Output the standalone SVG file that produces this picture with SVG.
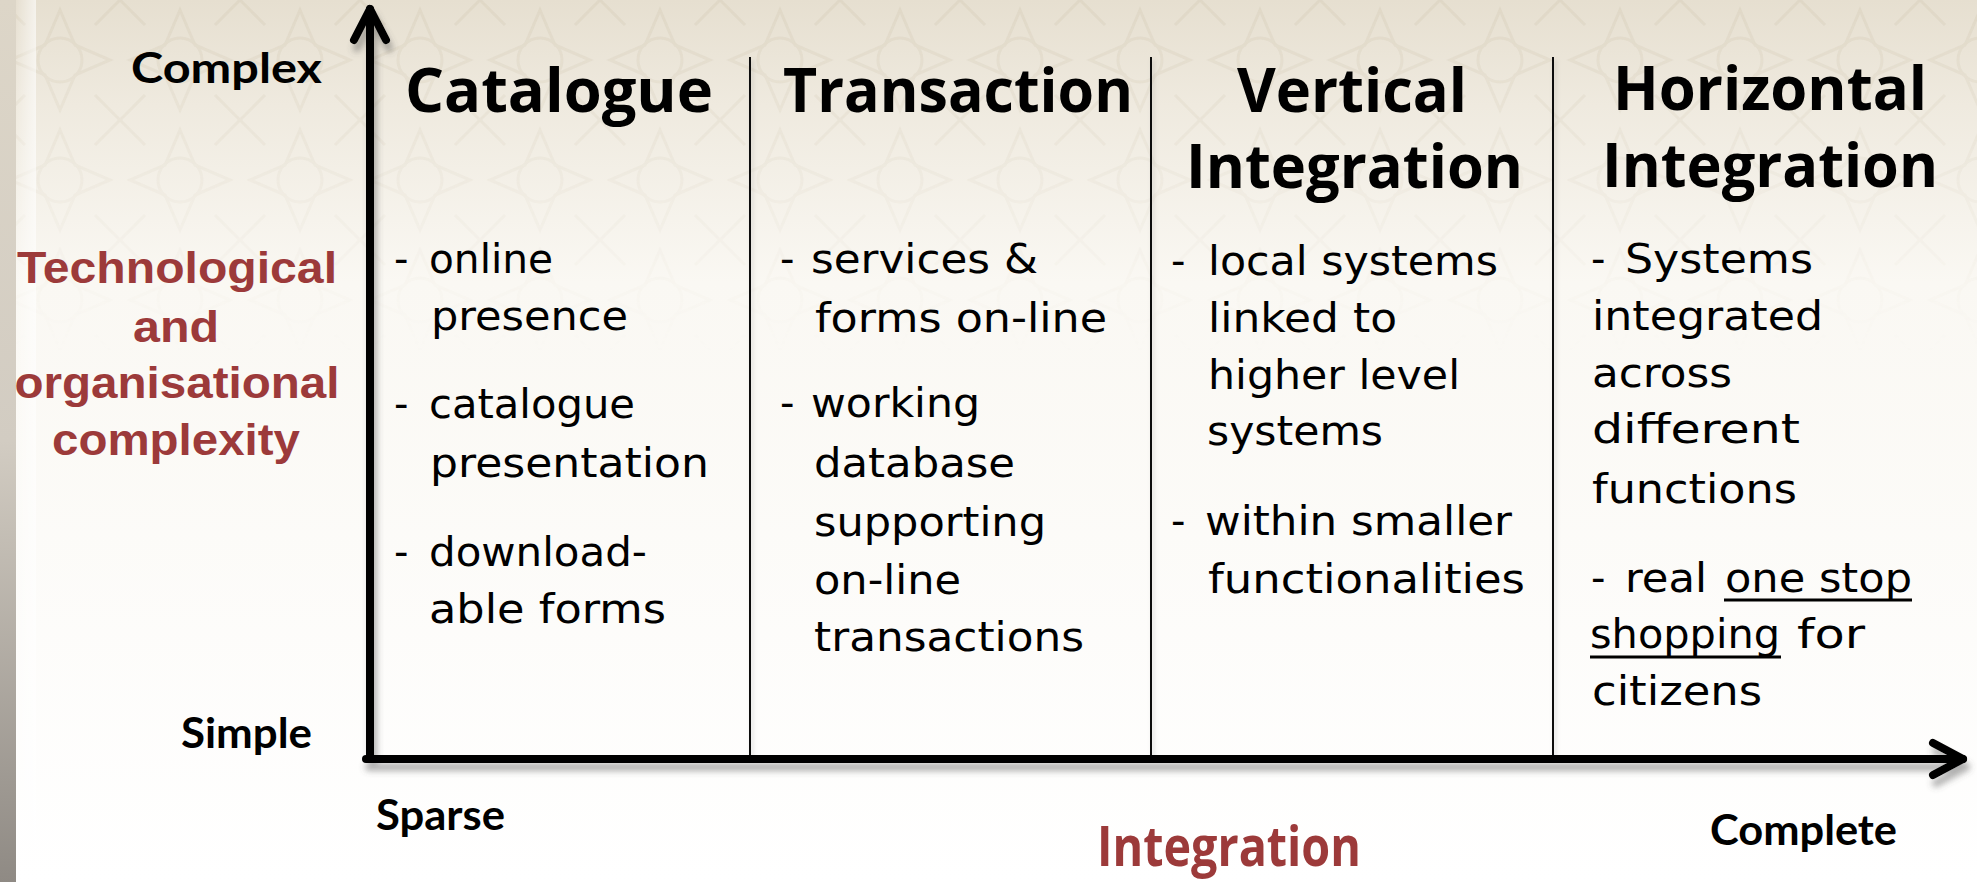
<svg xmlns="http://www.w3.org/2000/svg" width="1977" height="882" viewBox="0 0 1977 882">
  <defs>
    <linearGradient id="bgTop" x1="0" y1="0" x2="0" y2="1">
      <stop offset="0" stop-color="#e6dfd0"/>
      <stop offset="0.12" stop-color="#efeadf"/>
      <stop offset="0.32" stop-color="#faf8f3"/>
      <stop offset="1" stop-color="#ffffff"/>
    </linearGradient>
    <linearGradient id="leftStrip" x1="0" y1="0" x2="0" y2="1">
      <stop offset="0" stop-color="#ddd6c8"/>
      <stop offset="0.5" stop-color="#d2ccc2"/>
      <stop offset="1" stop-color="#8f8a84"/>
    </linearGradient>
    <linearGradient id="leftFade" x1="0" y1="0" x2="1" y2="0">
      <stop offset="0" stop-color="#ffffff" stop-opacity="0"/>
      <stop offset="1" stop-color="#ffffff" stop-opacity="1"/>
    </linearGradient>
    <linearGradient id="patFade" x1="0" y1="0" x2="0" y2="1">
      <stop offset="0" stop-color="#fff" stop-opacity="1"/>
      <stop offset="0.22" stop-color="#fff" stop-opacity="0.35"/>
      <stop offset="0.4" stop-color="#fff" stop-opacity="0"/>
    </linearGradient>
    <mask id="patMask">
      <rect x="0" y="0" width="1977" height="882" fill="url(#patFade)"/>
    </mask>
    <pattern id="arab" x="0" y="0" width="120" height="120" patternUnits="userSpaceOnUse">
      <g fill="none" stroke="#cfc5b0" stroke-width="3" opacity="0.3">
        <polygon points="60,10 75,45 110,60 75,75 60,110 45,75 10,60 45,45"/>
        <circle cx="60" cy="60" r="22"/>
        <path d="M0,0 L25,25 M120,0 L95,25 M0,120 L25,95 M120,120 L95,95"/>
      </g>
    </pattern>
    <filter id="shadow" x="-5%" y="-5%" width="110%" height="120%">
      <feDropShadow dx="3" dy="8" stdDeviation="3" flood-color="#555" flood-opacity="0.45"/>
    </filter>
    <filter id="softShadow" x="-20%" y="-2%" width="140%" height="104%">
      <feDropShadow dx="2" dy="3" stdDeviation="2" flood-color="#777" flood-opacity="0.3"/>
    </filter>
  </defs>
  <style>
    .title { font-family: "Open Sans", "DejaVu Sans", sans-serif; font-weight: 700; font-size: 60px; fill: #000; }
    .body { font-family: "DejaVu Sans", "Noto Sans", sans-serif; font-size: 40px; fill: #000; }
    .axislbl { font-family: "Lato", "Open Sans", sans-serif; font-weight: 700; font-size: 42px; fill: #000; }
    .ylabel { font-family: "Liberation Sans", Arial, sans-serif; font-weight: 700; font-size: 45px; fill: #9c3a3a; text-anchor: middle; }
    .xlabel { font-family: "Open Sans", "Liberation Sans", sans-serif; font-weight: 700; font-size: 56px; fill: #9c3a3a; }
    .divider { stroke: #111; stroke-width: 2; fill: none; }
    .axis { stroke: #000; stroke-width: 8; fill: none; stroke-linecap: round; stroke-linejoin: round; }
    .uline { stroke: #000; stroke-width: 3; }
  </style>

  <!-- background -->
  <rect x="0" y="0" width="1977" height="882" fill="url(#bgTop)"/>
  <rect x="0" y="0" width="1977" height="882" fill="url(#arab)" mask="url(#patMask)"/>
  <rect x="0" y="0" width="16" height="882" fill="url(#leftStrip)"/>
  <rect x="16" y="0" width="20" height="882" fill="url(#leftFade)" opacity="0.6"/>

  <!-- connectors: axes and column dividers -->
  <g id="connectors">
    <g filter="url(#softShadow)">
      <line class="divider" x1="750" y1="57" x2="750" y2="756"/>
      <line class="divider" x1="1151" y1="57" x2="1151" y2="756"/>
      <line class="divider" x1="1553" y1="57" x2="1553" y2="756"/>
    </g>
    <g filter="url(#shadow)">
      <path class="axis" d="M370,759 L370,9"/>
      <path class="axis" d="M354,40 L370,9 L386,40"/>
      <path class="axis" d="M366,759 L1963,759"/>
      <path class="axis" d="M1933,743 L1963,759 L1933,775"/>
    </g>
  </g>

  <!-- axis labels -->
  <g id="y-axis-labels">
    <text class="axislbl" x="131" y="83" textLength="191" lengthAdjust="spacingAndGlyphs">Complex</text>
    <text class="axislbl" x="181" y="748" textLength="131" lengthAdjust="spacingAndGlyphs">Simple</text>
    <text class="ylabel" x="177" y="283" textLength="320" lengthAdjust="spacingAndGlyphs">Technological</text>
    <text class="ylabel" x="176" y="342" textLength="86" lengthAdjust="spacingAndGlyphs">and</text>
    <text class="ylabel" x="177" y="398" textLength="325" lengthAdjust="spacingAndGlyphs">organisational</text>
    <text class="ylabel" x="176" y="455" textLength="248" lengthAdjust="spacingAndGlyphs">complexity</text>
  </g>
  <g id="x-axis-labels">
    <text class="axislbl" x="376" y="830" textLength="129" lengthAdjust="spacingAndGlyphs">Sparse</text>
    <text class="axislbl" x="1710" y="845" textLength="187" lengthAdjust="spacingAndGlyphs">Complete</text>
    <text class="xlabel" x="1097" y="866" textLength="264" lengthAdjust="spacingAndGlyphs">Integration</text>
  </g>

  <!-- column 1 -->
  <g id="catalogue">
    <text class="title" x="405" y="112" textLength="308" lengthAdjust="spacingAndGlyphs">Catalogue</text>
    <text class="body" x="394" y="273">-</text>
    <text class="body" x="429" y="273" textLength="124" lengthAdjust="spacingAndGlyphs">online</text>
    <text class="body" x="431" y="330" textLength="197" lengthAdjust="spacingAndGlyphs">presence</text>
    <text class="body" x="394" y="418">-</text>
    <text class="body" x="429" y="418" textLength="206" lengthAdjust="spacingAndGlyphs">catalogue</text>
    <text class="body" x="430" y="477" textLength="279" lengthAdjust="spacingAndGlyphs">presentation</text>
    <text class="body" x="394" y="566">-</text>
    <text class="body" x="429" y="566" textLength="218" lengthAdjust="spacingAndGlyphs">download-</text>
    <text class="body" x="429" y="623" textLength="237" lengthAdjust="spacingAndGlyphs">able forms</text>
  </g>

  <!-- column 2 -->
  <g id="transaction">
    <text class="title" x="783" y="112" textLength="350" lengthAdjust="spacingAndGlyphs">Transaction</text>
    <text class="body" x="780" y="273">-</text>
    <text class="body" x="811" y="273" textLength="227" lengthAdjust="spacingAndGlyphs">services &amp;</text>
    <text class="body" x="815" y="332" textLength="292" lengthAdjust="spacingAndGlyphs">forms on-line</text>
    <text class="body" x="780" y="417">-</text>
    <text class="body" x="811" y="417" textLength="169" lengthAdjust="spacingAndGlyphs">working</text>
    <text class="body" x="814" y="477" textLength="201" lengthAdjust="spacingAndGlyphs">database</text>
    <text class="body" x="814" y="536" textLength="232" lengthAdjust="spacingAndGlyphs">supporting</text>
    <text class="body" x="814" y="594" textLength="147" lengthAdjust="spacingAndGlyphs">on-line</text>
    <text class="body" x="814" y="651" textLength="270" lengthAdjust="spacingAndGlyphs">transactions</text>
  </g>

  <!-- column 3 -->
  <g id="vertical-integration">
    <text class="title" x="1237" y="112" textLength="230" lengthAdjust="spacingAndGlyphs">Vertical</text>
    <text class="title" x="1186" y="188" textLength="337" lengthAdjust="spacingAndGlyphs">Integration</text>
    <text class="body" x="1171" y="275">-</text>
    <text class="body" x="1208" y="275" textLength="290" lengthAdjust="spacingAndGlyphs">local systems</text>
    <text class="body" x="1208" y="332" textLength="189" lengthAdjust="spacingAndGlyphs">linked to</text>
    <text class="body" x="1208" y="389" textLength="252" lengthAdjust="spacingAndGlyphs">higher level</text>
    <text class="body" x="1207" y="445" textLength="176" lengthAdjust="spacingAndGlyphs">systems</text>
    <text class="body" x="1171" y="535">-</text>
    <text class="body" x="1205" y="535" textLength="307" lengthAdjust="spacingAndGlyphs">within smaller</text>
    <text class="body" x="1208" y="593" textLength="317" lengthAdjust="spacingAndGlyphs">functionalities</text>
  </g>

  <!-- column 4 -->
  <g id="horizontal-integration">
    <text class="title" x="1613" y="110" textLength="314" lengthAdjust="spacingAndGlyphs">Horizontal</text>
    <text class="title" x="1602" y="187" textLength="336" lengthAdjust="spacingAndGlyphs">Integration</text>
    <text class="body" x="1591" y="273">-</text>
    <text class="body" x="1625" y="273" textLength="188" lengthAdjust="spacingAndGlyphs">Systems</text>
    <text class="body" x="1592" y="330" textLength="231" lengthAdjust="spacingAndGlyphs">integrated</text>
    <text class="body" x="1592" y="387" textLength="140" lengthAdjust="spacingAndGlyphs">across</text>
    <text class="body" x="1592" y="443" textLength="208" lengthAdjust="spacingAndGlyphs">different</text>
    <text class="body" x="1592" y="503" textLength="205" lengthAdjust="spacingAndGlyphs">functions</text>
    <text class="body" x="1591" y="592">-</text>
    <text class="body" x="1625" y="592" textLength="82" lengthAdjust="spacingAndGlyphs">real</text>
    <text class="body" x="1725" y="592" textLength="187" lengthAdjust="spacingAndGlyphs">one stop</text>
    <line class="uline" x1="1724" y1="600" x2="1912" y2="600"/>
    <text class="body" x="1590" y="648" textLength="190" lengthAdjust="spacingAndGlyphs">shopping</text>
    <line class="uline" x1="1590" y1="657" x2="1781" y2="657"/>
    <text class="body" x="1797" y="648" textLength="68" lengthAdjust="spacingAndGlyphs">for</text>
    <text class="body" x="1592" y="705" textLength="170" lengthAdjust="spacingAndGlyphs">citizens</text>
  </g>
</svg>
